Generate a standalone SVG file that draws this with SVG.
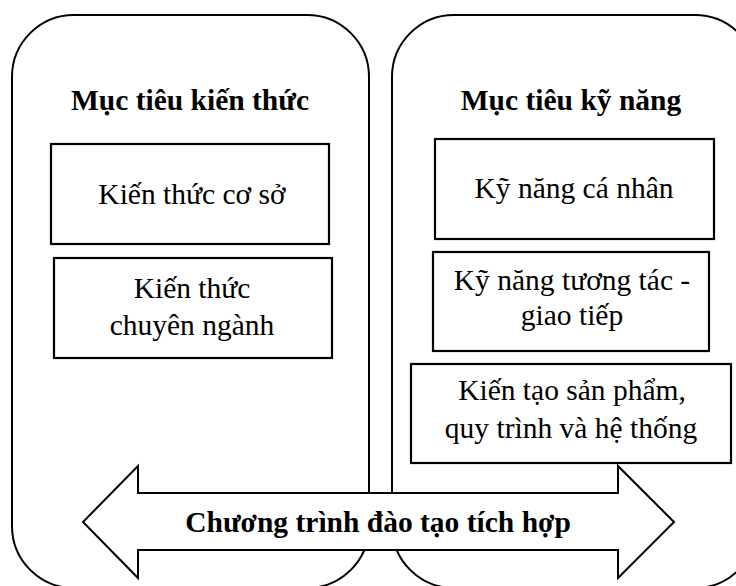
<svg xmlns="http://www.w3.org/2000/svg" width="736" height="586" viewBox="0 0 736 586">
<style>
.panel{fill:#fff;stroke:#000;stroke-width:2}
.box{fill:#fff;stroke:#000;stroke-width:2.2}
.t{font-family:"Liberation Serif","Times New Roman",serif;font-size:29.5px;fill:#000;text-anchor:middle}
.b{font-family:"Liberation Serif","Times New Roman",serif;font-size:29.5px;font-weight:bold;fill:#000;text-anchor:middle}
</style>
<rect width="736" height="586" fill="#fff"/>
<g id="panel-knowledge">
<rect class="panel" x="12" y="15" width="357" height="573" rx="62" ry="62"/>
<text class="b" x="190" y="110">Mục tiêu kiến thức</text>
</g>
<g id="panel-skills">
<rect class="panel" x="392" y="15" width="365" height="573" rx="62" ry="62"/>
<text class="b" x="571" y="110">Mục tiêu kỹ năng</text>
</g>
<g id="box-co-so">
<rect class="box" x="51" y="144" width="278" height="100"/>
<text class="t" x="192" y="204">Kiến thức cơ sở</text>
</g>
<g id="box-chuyen-nganh">
<rect class="box" x="54" y="258" width="278" height="100"/>
<text class="t" x="192" y="298">Kiến thức</text>
<text class="t" x="192" y="335">chuyên ngành</text>
</g>
<g id="box-ca-nhan">
<rect class="box" x="435" y="139" width="279" height="100"/>
<text class="t" x="574" y="198">Kỹ năng cá nhân</text>
</g>
<g id="box-tuong-tac">
<rect class="box" x="433" y="252" width="276" height="99"/>
<text class="t" x="572" y="290">Kỹ năng tương tác -</text>
<text class="t" x="572" y="325">giao tiếp</text>
</g>
<g id="box-kien-tao">
<rect class="box" x="411" y="364" width="320" height="99"/>
<text class="t" x="572" y="400">Kiến tạo sản phẩm,</text>
<text class="t" x="571" y="438">quy trình và hệ thống</text>
</g>
<g id="connectors">
<g id="arrow-chuong-trinh">
<polygon points="83,522 138,466 138,493 618,493 618,466 674,522 618,578 618,550 138,550 138,578" fill="#fff" stroke="#000" stroke-width="2" stroke-linejoin="miter"/>
<text class="b" x="378" y="532">Chương trình đào tạo tích hợp</text>
</g>
</g>
</svg>
